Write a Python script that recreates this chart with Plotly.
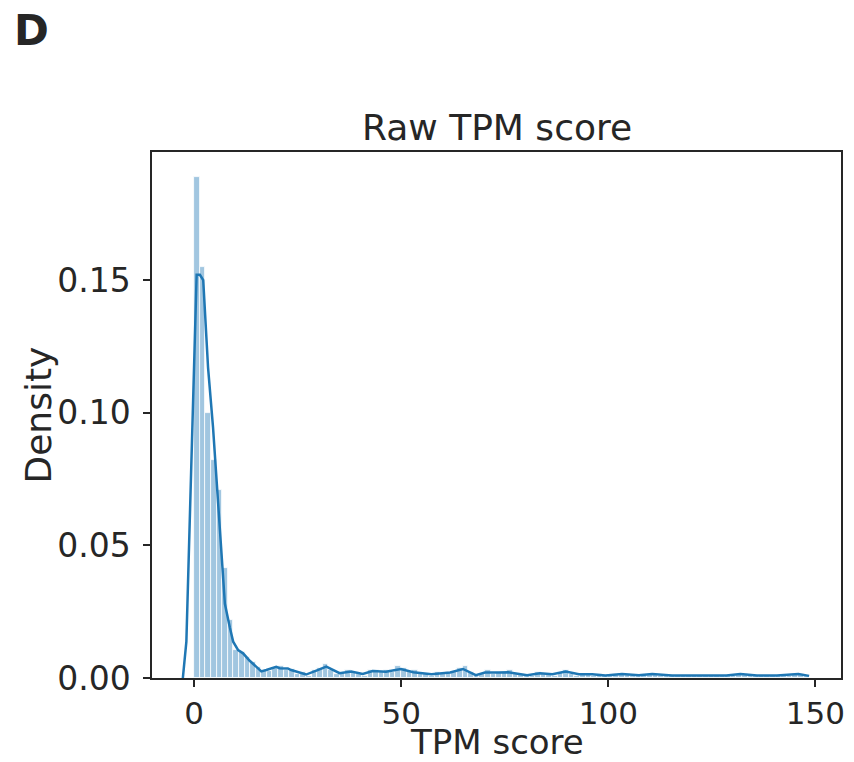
import plotly.graph_objects as go

# Histogram of TPM scores (density-normalised), bin width and per-bin heights
bin_width = 1.35
bin_density = [
    0.1888, 0.1549, 0.1000, 0.0820, 0.0707, 0.0414, 0.0220, 0.0105, 0.0098, 0.0080,
    0.0060, 0.0040, 0.0030, 0.0026, 0.0037, 0.0044, 0.0030, 0.0033, 0.0015, 0.0022,
    0.0007, 0.0030, 0.0037, 0.0052, 0.0030, 0.0015, 0.0022, 0.0030, 0.0022, 0.0015,
    0.0007, 0.0030, 0.0030, 0.0022, 0.0030, 0.0022, 0.0044, 0.0037, 0.0022, 0.0030,
    0.0015, 0.0015, 0.0007, 0.0022, 0.0015, 0.0022, 0.0022, 0.0037, 0.0044, 0.0022,
    0.0007, 0.0015, 0.0030, 0.0015, 0.0022, 0.0022, 0.0030, 0.0015, 0.0015, 0.0007,
    0.0007, 0.0022, 0.0015, 0.0015, 0.0007, 0.0022, 0.0030, 0.0015, 0.0007, 0.0015,
    0.0015, 0.0007, 0.0015, 0.0007, 0.0007, 0.0015, 0.0015, 0.0015, 0.0007, 0.0007,
    0.0015, 0.0015, 0.0015, 0.0007, 0.0007, 0.0007, 0.0007, 0.0007, 0.0007, 0.0007,
    0.0007, 0.0007, 0.0007, 0.0007, 0.0007, 0.0007, 0.0007, 0.0015, 0.0015, 0.0007,
    0.0007, 0.0007, 0.0007, 0.0007, 0.0007, 0.0007, 0.0007, 0.0015, 0.0015, 0.0007,
]

# Kernel density estimate curve
kde_x = [
    -2.75, -1.9, 0.58, 1.37, 2.17, 3.34, 4.54, 6.19, 7.4, 8.6, 9.4, 10.6, 11.8,
    13.4, 15.4, 16.2, 17.4, 19.8, 20.6, 22.6, 23.4, 27.0, 29.5, 31.9, 35.1, 37.9,
    40.7, 43.1, 46.3, 49.9, 52.9, 57.3, 61.8, 64.9, 68.0, 70.2, 73.6, 75.8, 80.4,
    83.5, 86.5, 89.7, 92.9, 96.1, 99.3, 103.3, 107.4, 110.6, 115.4, 119.4, 125.0,
    128.5, 131.9, 135.9, 140.7, 145.9, 148.5,
]
kde_y = [
    0.0, 0.0137, 0.152, 0.152, 0.150, 0.117, 0.0945, 0.0569, 0.028, 0.019, 0.0137,
    0.0105, 0.0093, 0.0065, 0.0035, 0.0025, 0.0030, 0.0042, 0.0037, 0.0036, 0.0030,
    0.0013, 0.0028, 0.0043, 0.0018, 0.0024, 0.0015, 0.0026, 0.0024, 0.0034, 0.0022,
    0.0014, 0.0021, 0.0034, 0.0011, 0.0021, 0.0021, 0.0022, 0.0010, 0.0018, 0.0014,
    0.0024, 0.0014, 0.0014, 0.0009, 0.0015, 0.0010, 0.0015, 0.0009, 0.0009, 0.0008,
    0.0009, 0.0015, 0.0009, 0.0009, 0.0015, 0.0008,
]

x_ticks = [0, 50, 100, 150]
y_ticks = [0.00, 0.05, 0.10, 0.15]
y_tick_labels = ["0.00", "0.05", "0.10", "0.15"]

blue = "#1f77b4"
ink = "#262626"
font_family = "DejaVu Sans"

bin_centers = [bin_width * (i + 0.5) for i in range(len(bin_density))]

fig = go.Figure()
fig.add_trace(go.Bar(
    x=bin_centers,
    y=bin_density,
    width=bin_width,
    marker=dict(color="rgba(31,119,180,0.42)", line=dict(color="white", width=0.8)),
    showlegend=False,
    hoverinfo="skip",
))
fig.add_trace(go.Scatter(
    x=kde_x,
    y=kde_y,
    mode="lines",
    line=dict(color=blue, width=2.5),
    showlegend=False,
))

axis_common = dict(
    showline=True, linecolor=ink, linewidth=1.5, mirror=True,
    ticks="outside", ticklen=7, tickwidth=1.5, tickcolor=ink,
    showgrid=False, zeroline=False,
)

fig.update_layout(
    width=854, height=762,
    margin=dict(l=152, r=9, t=152, b=84),
    plot_bgcolor="white", paper_bgcolor="white",
    bargap=0,
    font=dict(family=font_family, color=ink),
    xaxis=dict(range=[-10.2, 156.2], tickvals=x_ticks, ticklabelstandoff=0,
               tickfont=dict(family=font_family, size=31, color=ink), **axis_common),
    yaxis=dict(range=[0, 0.1983], tickvals=y_ticks, ticktext=y_tick_labels,
               ticklabelstandoff=6,
               tickfont=dict(family=font_family, size=33, color=ink), **axis_common),
    annotations=[
        dict(text="Raw TPM score", x=0.5, y=1, xref="paper", yref="paper",
             xanchor="center", yanchor="bottom", yshift=2, showarrow=False,
             font=dict(family=font_family, size=36, color=ink)),
        dict(text="TPM score", x=0.5, y=0, xref="paper", yref="paper",
             xanchor="center", yanchor="bottom", yshift=-86, showarrow=False,
             font=dict(family=font_family, size=34, color=ink)),
        dict(text="Density", x=0, y=0.5, xref="paper", yref="paper",
             xanchor="right", yanchor="middle", xshift=-92, textangle=-90, showarrow=False,
             font=dict(family=font_family, size=36, color=ink)),
        dict(text="<b>D</b>", x=0, y=1, xref="paper", yref="paper",
             xanchor="left", yanchor="top", xshift=-152 + 12, yshift=152 - 4, showarrow=False,
             font=dict(family=font_family, size=42, color=ink)),
    ],
)

fig.write_html("out.html")
